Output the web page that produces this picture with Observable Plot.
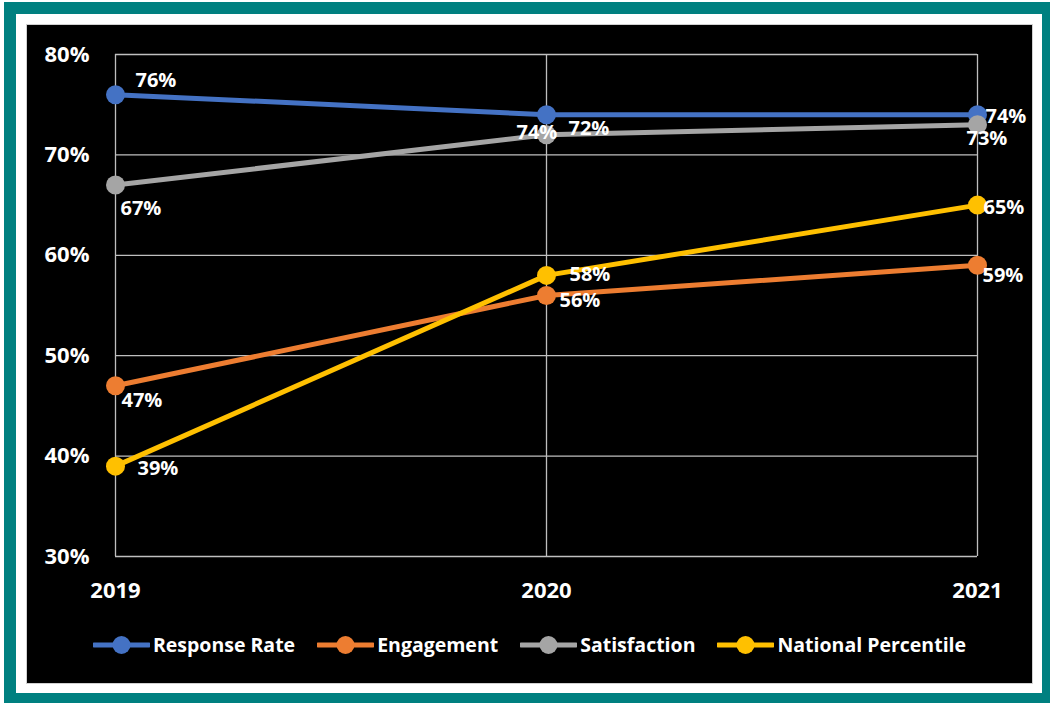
<!DOCTYPE html>
<html>
<head>
<meta charset="utf-8">
<script src="https://cdn.jsdelivr.net/npm/d3@7"></script>
<script src="https://cdn.jsdelivr.net/npm/@observablehq/plot@0.6"></script>
<style>
  html, body { margin: 0; padding: 0; background: white; }
  #frame { position: absolute; left: 4px; top: 2px; width: 1046px; height: 701px; background: #008080; }
  #inner { position: absolute; left: 16px; top: 14px; width: 1026px; height: 679px; background: white; }
  #black { position: absolute; left: 26px; top: 24px; width: 1005px; height: 658px; background: black; border: 1px solid #d0d0d0; }
  #chart { position: absolute; left: 0; top: 0; }
  #legend { position: absolute; left: 27px; width: 1005px; top: 631px; display: flex; justify-content: center; gap: 22px;
            font-family: "Open Sans", sans-serif; font-weight: bold; font-size: 19.5px; color: white; }
  .item { display: flex; align-items: center; gap: 3px; }
</style>
</head>
<body>
<div id="frame"></div>
<div id="inner"></div>
<div id="black"></div>
<div id="chart"></div>
<div id="legend"></div>
<script>
const years = ["2019", "2020", "2021"];
const seriesNames = ["Response Rate", "Engagement", "Satisfaction", "National Percentile"];
const responseRate = [0.76, 0.74, 0.74];
const engagement = [0.47, 0.56, 0.59];
const satisfaction = [0.67, 0.72, 0.73];
const nationalPercentile = [0.39, 0.58, 0.65];
const yTicks = [0.3, 0.4, 0.5, 0.6, 0.7, 0.8];

const seriesValues = [responseRate, engagement, satisfaction, nationalPercentile];
const colors = ["#4472C4", "#ED7D31", "#A5A5A5", "#FFC000"];

// label placement (style): [dx, dy] per series per year
const labelOffsets = [
  [[20, -14], [-30, 18], [8, 2]],
  [[6, 15], [13, 5], [5, 10]],
  [[5, 24], [22, -6], [-11, 14]],
  [[22, 2], [23, -1], [6, 2]]
];

const pct = d => Math.round(d * 100) + "%";
const FONT = "Open Sans";

const marks = [
  Plot.gridY(yTicks, {stroke: "#bfbfbf", strokeOpacity: 1, strokeWidth: 1.3}),
  Plot.gridX(years, {stroke: "#bfbfbf", strokeOpacity: 1, strokeWidth: 1.3}),
  Plot.axisY(yTicks, {label: null, tickSize: 0, tickPadding: 26, tickFormat: pct, fontSize: 22, fontWeight: "bold", fill: "white"}),
  Plot.axisX(years, {label: null, tickSize: 0, tickPadding: 26, fontSize: 22, fontWeight: "bold", fill: "white"})
];

seriesNames.forEach((name, i) => {
  const rows = years.map((y, j) => ({series: name, year: y, value: seriesValues[i][j]}));
  marks.push(Plot.line(rows, {x: "year", y: "value", stroke: colors[i], strokeWidth: 5}));
  marks.push(Plot.dot(rows, {x: "year", y: "value", fill: colors[i], r: 9.5}));
});

seriesNames.forEach((name, i) => {
  years.forEach((y, j) => {
    const [dx, dy] = labelOffsets[i][j];
    marks.push(Plot.text([{year: y, value: seriesValues[i][j]}], {
      x: "year", y: "value", text: d => pct(d.value), dx, dy,
      textAnchor: "start", fill: "white", fontSize: 20, fontWeight: "bold"
    }));
  });
});

const chart = Plot.plot({
  width: 1050,
  height: 620,
  marginLeft: 115,
  marginRight: 73,
  marginTop: 54,
  marginBottom: 64,
  x: {type: "point", domain: years, padding: 0, label: null},
  y: {domain: [0.3, 0.8], label: null},
  style: {background: "transparent", color: "white", fontFamily: FONT, overflow: "visible"},
  marks
});
document.getElementById("chart").appendChild(chart);

const legend = document.getElementById("legend");
seriesNames.forEach((name, i) => {
  const item = document.createElement("div");
  item.className = "item";
  item.innerHTML = `<svg width="57" height="22"><line x1="1" x2="56" y1="11" y2="11" stroke="${colors[i]}" stroke-width="5" stroke-linecap="round"/><circle cx="28.5" cy="11" r="9" fill="${colors[i]}"/></svg><span>${name}</span>`;
  legend.appendChild(item);
});
</script>
</body>
</html>
